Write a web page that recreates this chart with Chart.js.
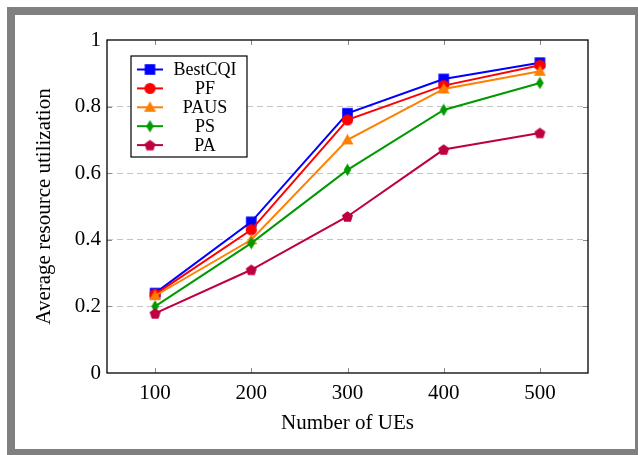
<!DOCTYPE html>
<html>
<head>
<meta charset="utf-8">
<title>Average resource utilization</title>
<script src="https://cdn.jsdelivr.net/npm/chart.js@4.4.1/dist/chart.umd.min.js"></script>
<style>
  html, body { margin: 0; padding: 0; background: #fff; }
  #frame { position: absolute; left: 7px; top: 7px; width: 620px; height: 434px;
           border-style: solid; border-color: #808080; border-width: 8px 3px 6px 8px; }
  #chart { position: absolute; left: 0; top: 0; }
</style>
</head>
<body>
<div id="frame"></div>
<canvas id="chart" width="638" height="455"></canvas>
<script>
// DATA
const ues = [100, 200, 300, 400, 500];
const yTicks = [0, 0.2, 0.4, 0.6, 0.8, 1];
const bestCqi = [0.24, 0.454, 0.78, 0.883, 0.932];
const pf      = [0.236, 0.43, 0.76, 0.863, 0.924];
const paus    = [0.232, 0.40, 0.70, 0.853, 0.906];
const ps      = [0.20, 0.39, 0.61, 0.79, 0.871];
const pa      = [0.179, 0.31, 0.47, 0.671, 0.721];

const FONT = "'Liberation Serif', 'Times New Roman', serif";

// marker images (also reused by the legend)
function marker(shape, color){
  const c = document.createElement('canvas');
  const w = shape === 'diamond' ? 9 : 13, h = 13;
  c.width = w; c.height = h;
  const g = c.getContext('2d');
  g.fillStyle = color;
  g.beginPath();
  const cx = w / 2, cy = h / 2;
  if (shape === 'square') {
    g.rect(cx - 5.3, cy - 5.3, 10.6, 10.6);
  } else if (shape === 'circle') {
    g.arc(cx, cy, 5.6, 0, Math.PI * 2);
  } else if (shape === 'triangle') {
    g.moveTo(cx, cy - 6); g.lineTo(cx + 6, cy + 4.5); g.lineTo(cx - 6, cy + 4.5);
  } else if (shape === 'diamond') {
    g.moveTo(cx, cy - 6.2); g.lineTo(cx + 3.8, cy); g.lineTo(cx, cy + 6.2); g.lineTo(cx - 3.8, cy);
  } else { // pentagon
    for (let i = 0; i < 5; i++) {
      const a = -Math.PI / 2 + i * 2 * Math.PI / 5;
      const px = cx + 5.8 * Math.cos(a), py = cy + 0.5 + 5.8 * Math.sin(a);
      i ? g.lineTo(px, py) : g.moveTo(px, py);
    }
  }
  g.closePath();
  g.fill();
  return c;
}

const series = [
  { label: 'BestCQI', data: bestCqi, color: '#0000ff', shape: 'square' },
  { label: 'PF',      data: pf,      color: '#ff0000', shape: 'circle' },
  { label: 'PAUS',    data: paus,    color: '#ff8000', shape: 'triangle' },
  { label: 'PS',      data: ps,      color: '#009a00', shape: 'diamond' },
  { label: 'PA',      data: pa,      color: '#bf0040', shape: 'pentagon' }
];

const datasets = series.map((s, i) => ({
  label: s.label,
  data: ues.map((x, j) => ({ x: x, y: s.data[j] })),
  borderColor: s.color,
  backgroundColor: s.color,
  borderWidth: 2,
  pointStyle: marker(s.shape, s.color),
  pointRadius: 5,
  tension: 0,
  order: series.length - i   // later series on top
}));

// pgfplots-like frame, inner ticks and boxed legend
const framePlugin = {
  id: 'framePlugin',
  afterDatasetsDraw(chart){
    const { ctx, chartArea: a, scales: { x, y } } = chart;
    ctx.save();
    ctx.strokeStyle = '#8a8a8a';
    ctx.lineWidth = 1;
    ues.forEach(v => {
      const px = Math.round(x.getPixelForValue(v)) + 0.5;
      ctx.beginPath();
      ctx.moveTo(px, a.bottom); ctx.lineTo(px, a.bottom - 5);
      ctx.moveTo(px, a.top); ctx.lineTo(px, a.top + 5);
      ctx.stroke();
    });
    yTicks.slice(1, -1).forEach(v => {
      const py = Math.round(y.getPixelForValue(v)) + 0.5;
      ctx.beginPath();
      ctx.moveTo(a.left, py); ctx.lineTo(a.left + 5, py);
      ctx.moveTo(a.right, py); ctx.lineTo(a.right - 5, py);
      ctx.stroke();
    });
    ctx.strokeStyle = '#000';
    ctx.lineWidth = 1.3;
    ctx.strokeRect(a.left, a.top, a.right - a.left, a.bottom - a.top);

    // legend
    const bx = a.left + 24, by = a.top + 16, bw = 116, bh = 101;
    ctx.fillStyle = '#fff';
    ctx.fillRect(bx, by, bw, bh);
    ctx.lineWidth = 1.2;
    ctx.strokeRect(bx, by, bw, bh);
    ctx.font = '18px ' + FONT;
    ctx.textAlign = 'center';
    ctx.textBaseline = 'middle';
    series.forEach((s, i) => {
      const ry = by + 13.5 + i * 18.9;
      ctx.strokeStyle = s.color;
      ctx.lineWidth = 2;
      ctx.beginPath();
      ctx.moveTo(bx + 6, ry); ctx.lineTo(bx + 32, ry);
      ctx.stroke();
      const m = datasets[i].pointStyle;
      ctx.drawImage(m, bx + 19 - m.width / 2, ry - m.height / 2);
      ctx.fillStyle = '#000';
      ctx.fillText(s.label, bx + 74, ry + 1);
    });
    ctx.restore();
  }
};

new Chart(document.getElementById('chart'), {
  type: 'line',
  data: { datasets: datasets },
  options: {
    responsive: false,
    animation: false,
    devicePixelRatio: 1,
    layout: { padding: { top: 40, right: 50, left: 0, bottom: 0 } },
    plugins: { legend: { display: false }, tooltip: { enabled: false } },
    scales: {
      x: {
        type: 'linear',
        min: 50, max: 550,
        afterBuildTicks: s => { s.ticks = ues.map(v => ({ value: v })); },
        afterFit: s => { s.height = 82; },
        grid: { display: false },
        border: { display: false },
        ticks: { color: '#000', font: { family: FONT, size: 21 }, padding: 0, maxRotation: 0 },
        title: { display: true, text: 'Number of UEs', color: '#000',
                 font: { family: FONT, size: 21 }, padding: { top: 0, bottom: 19 } }
      },
      y: {
        min: 0, max: 1,
        afterBuildTicks: s => { s.ticks = yTicks.map(v => ({ value: v })); },
        afterFit: s => { s.width = 107; },
        grid: {
          drawTicks: false,
          color: c => (c.tick && (c.tick.value === 0 || c.tick.value === 1)) ? 'rgba(0,0,0,0)' : '#c4c4c4',
          lineWidth: 1
        },
        border: { display: false, dash: [6, 4] },
        ticks: { color: '#000', font: { family: FONT, size: 21 }, padding: 6,
                 callback: v => String(v) },
        title: { display: true, text: 'Average resource utilization', color: '#000',
                 font: { family: FONT, size: 21 }, padding: { top: 32, bottom: 0 } }
      }
    }
  },
  plugins: [framePlugin]
});
</script>
</body>
</html>
